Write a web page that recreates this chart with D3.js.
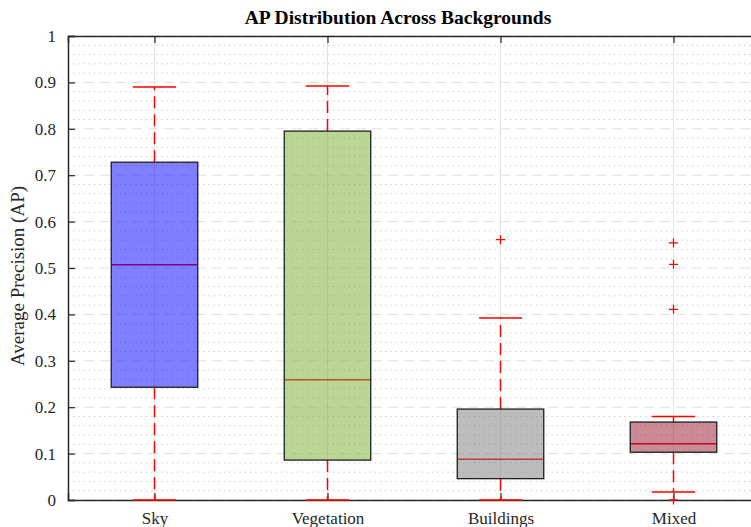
<!DOCTYPE html>
<html>
<head>
<meta charset="utf-8">
<script src="https://cdn.jsdelivr.net/npm/d3@7"></script>
<style>
  html, body { margin: 0; padding: 0; background: #fff; }
  svg { display: block; font-family: "Liberation Serif", "Times New Roman", serif; }
</style>
</head>
<body>
<svg id="chart" width="751" height="527"></svg>
<script>
// Box-plot summary per background type
const categories = ["Sky", "Vegetation", "Buildings", "Mixed"];
const whiskerLow  = [0.000, 0.000, 0.000, 0.017];
const q1          = [0.243, 0.086, 0.046, 0.103];
const medians     = [0.507, 0.259, 0.088, 0.121];
const q3          = [0.728, 0.795, 0.196, 0.168];
const whiskerHigh = [0.890, 0.892, 0.392, 0.180];
const outliers    = [[], [], [0.561], [0.554, 0.508, 0.411, 0.000]];
const yTicks = [0, 0.1, 0.2, 0.3, 0.4, 0.5, 0.6, 0.7, 0.8, 0.9, 1];
const boxFills = ["#0000ff", "#77ac30", "#7a7a7a", "#96182f"];

const svg = d3.select("#chart");
const margin = { left: 68, top: 36, bottom: 500 };

// Category axis spans [0.5, 4.5]; the right end runs past the window
const x = d3.scaleLinear().domain([0.5, categories.length + 0.5]).range([margin.left, margin.left + 692]);
const y = d3.scaleLinear().domain([0, 1]).range([margin.bottom, margin.top]);

const grid = svg.append("g");
// minor dotted grid every 0.02
d3.range(0, 1.0001, 0.02).forEach(v => {
  if (Math.abs(v * 10 - Math.round(v * 10)) < 1e-6) return;
  grid.append("line")
    .attr("x1", margin.left).attr("x2", 751)
    .attr("y1", y(v)).attr("y2", y(v))
    .attr("stroke", "#c4c4c4").attr("stroke-width", 1)
    .attr("stroke-dasharray", "1.2,4");
});
// major dashed grid
yTicks.forEach(v => {
  grid.append("line")
    .attr("x1", margin.left).attr("x2", 751)
    .attr("y1", y(v)).attr("y2", y(v))
    .attr("stroke", "#e0e0e0").attr("stroke-width", 1)
    .attr("stroke-dasharray", "10,6");
});
// vertical grid at category positions
categories.forEach((c, i) => {
  grid.append("line")
    .attr("x1", x(i + 1)).attr("x2", x(i + 1))
    .attr("y1", margin.top).attr("y2", margin.bottom)
    .attr("stroke", "#e2e2e2").attr("stroke-width", 1);
});

// axes
const axisInk = "#262626";
const yAxis = d3.axisLeft(y).tickValues(yTicks).tickSize(-7).tickPadding(12)
  .tickFormat(d => d === 0 ? "0" : d === 1 ? "1" : d3.format(".1f")(d));
const gy = svg.append("g").attr("transform", `translate(${margin.left},0)`).call(yAxis);
const xAxis = d3.axisBottom(x).tickValues(d3.range(1, categories.length + 1))
  .tickSize(-7).tickPadding(12).tickFormat(d => categories[d - 1]);
const gx = svg.append("g").attr("transform", `translate(0,${margin.bottom})`).call(xAxis);
const xTop = d3.axisTop(x).tickValues(d3.range(1, categories.length + 1)).tickSize(-7).tickFormat("");
const gt = svg.append("g").attr("transform", `translate(0,${margin.top})`).call(xTop);
[gy, gx, gt].forEach(g => {
  g.select(".domain").attr("stroke", axisInk).attr("stroke-width", 1.5);
  g.selectAll(".tick line").attr("stroke", axisInk).attr("stroke-width", 1.2);
  g.selectAll("text").attr("font-size", 17).attr("fill", axisInk)
    .attr("font-family", "Liberation Serif, serif");
});

const red = "#ff0000";
const boxes = svg.append("g");
const bw = 0.5, cw = 0.25;
categories.forEach((c, i) => {
  const cx = x(i + 1);
  const g = boxes.append("g");
  // whiskers
  g.append("line").attr("x1", cx).attr("x2", cx)
    .attr("y1", y(q3[i])).attr("y2", y(whiskerHigh[i]))
    .attr("stroke", red).attr("stroke-width", 1.5).attr("stroke-dasharray", "12,6");
  g.append("line").attr("x1", cx).attr("x2", cx)
    .attr("y1", y(q1[i])).attr("y2", y(whiskerLow[i]))
    .attr("stroke", red).attr("stroke-width", 1.5).attr("stroke-dasharray", "12,6");
  // caps
  [whiskerLow[i], whiskerHigh[i]].forEach(v => {
    g.append("line")
      .attr("x1", x(i + 1 - cw / 2)).attr("x2", x(i + 1 + cw / 2))
      .attr("y1", y(v)).attr("y2", y(v))
      .attr("stroke", red).attr("stroke-width", 1.5);
  });
  // median, seen through the translucent box fill
  g.append("line")
    .attr("x1", x(i + 1 - bw / 2)).attr("x2", x(i + 1 + bw / 2))
    .attr("y1", y(medians[i])).attr("y2", y(medians[i]))
    .attr("stroke", red).attr("stroke-width", 1.5);
  // box
  g.append("rect")
    .attr("x", x(i + 1 - bw / 2)).attr("width", x(i + 1 + bw / 2) - x(i + 1 - bw / 2))
    .attr("y", y(q3[i])).attr("height", y(q1[i]) - y(q3[i]))
    .attr("fill", boxFills[i]).attr("fill-opacity", 0.5)
    .attr("stroke", "#1e1e1e").attr("stroke-width", 1.3);
  // outliers
  outliers[i].forEach(v => {
    const py = y(v);
    g.append("path")
      .attr("d", `M${cx - 4.5},${py}H${cx + 4.5}M${cx},${py - 4.5}V${py + 4.5}`)
      .attr("stroke", red).attr("stroke-width", 1.3).attr("fill", "none");
  });
});

// title and axis label
svg.append("text")
  .attr("x", 398).attr("y", 24)
  .attr("text-anchor", "middle")
  .attr("font-size", 19.5).attr("font-weight", "bold").attr("fill", "#000")
  .text("AP Distribution Across Backgrounds");

svg.append("text")
  .attr("transform", `translate(24,276) rotate(-90)`)
  .attr("text-anchor", "middle")
  .attr("font-size", 19).attr("fill", axisInk)
  .text("Average Precision (AP)");
</script>
</body>
</html>
